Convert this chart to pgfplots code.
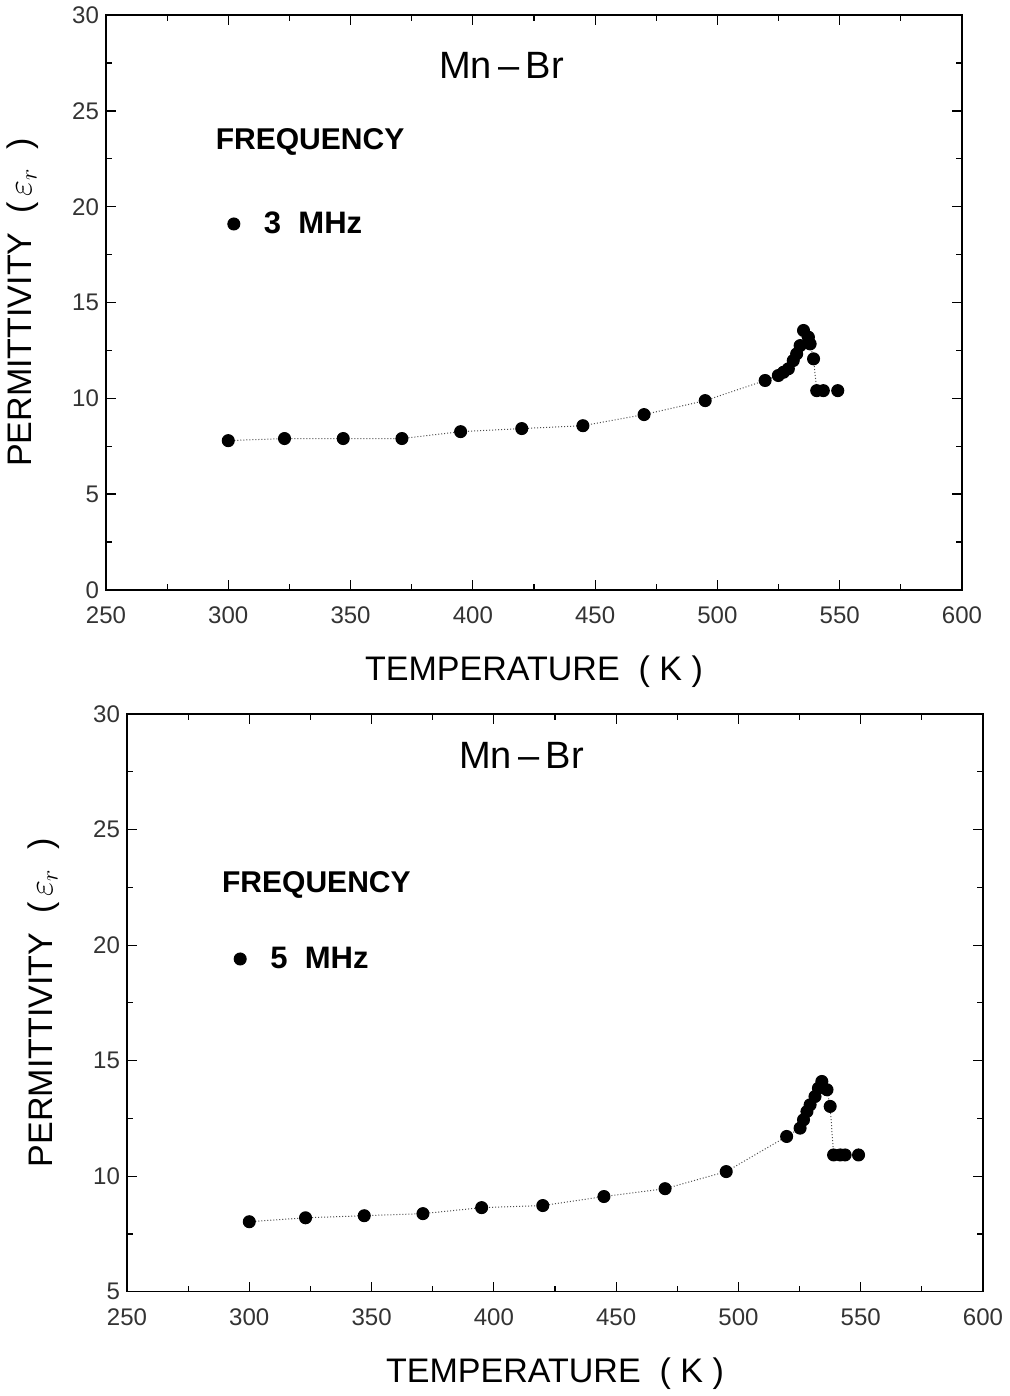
\documentclass[border=0pt]{standalone}
\usepackage{pgfplots}
\pgfplotsset{compat=1.18}
\usepackage{fontspec}
\setmainfont{Liberation Sans}

\pgfplotstableread{
T eps
300 7.79
323 7.90
347 7.90
371 7.90
395 8.26
420 8.42
445 8.57
470 9.15
495 9.88
519.5 10.93
524.9 11.19
527.0 11.36
529.0 11.54
531.0 11.97
532.4 12.32
533.8 12.75
535.2 13.54
537.2 13.19
537.9 12.84
539.3 12.06
540.6 10.40
543.3 10.40
549.2 10.40
}\threemhz

\pgfplotstableread{
T eps
300 8.03
323 8.20
347 8.29
371 8.38
395 8.64
420 8.73
445 9.12
470 9.46
495 10.20
519.7 11.72
525.2 12.08
526.6 12.44
528.0 12.80
529.3 13.09
531.3 13.45
532.7 13.81
534.1 14.10
536.2 13.74
537.5 13.02
538.9 10.92
541.6 10.92
543.6 10.92
549.1 10.92
}\fivemhz

\pgfplotsset{
  permstyle/.style={
    scale only axis,
    width=427.5pt,
    xmin=250, xmax=600,
    xtick={250,300,...,600},
    minor x tick num=1,
    minor y tick num=1,
    tick align=inside,
    xtick pos=both, ytick pos=both,
    major tick length=5pt,
    minor tick length=3pt,
    axis line style={line width=0.7pt},
    every tick/.style={line width=0.6pt, black},
    tick label style={font=\fontsize{12}{14}\selectfont, text=black!80},
    xticklabel style={yshift=-5pt},
    /pgf/number format/assume math mode=true,
    xlabel={TEMPERATURE\ \ (\ K\ )},
    ylabel={PERMITTIVITY\ \ (\,$\varepsilon_r$\ \ )},
    label style={font=\fontsize{17}{20}\selectfont},
    xlabel style={yshift=-9pt},
    ylabel style={yshift=10pt},
    legend style={draw=none, fill=none, font=\fontsize{15.5}{19}\selectfont\bfseries,
      anchor=west, cells={anchor=west}},
    legend image code/.code={\fill[black, solid] (0cm,0cm) circle (3pt); \path (0.45cm,0cm);},
  },
  datastyle/.style={densely dotted, line width=0.5pt, black!70,
    mark=*, mark size=3pt, mark options={solid, fill=black, draw=black}},
}

\begin{document}
\begin{tikzpicture}
\begin{axis}[permstyle,
  height=287pt,
  ymin=0, ymax=30,
  ytick={0,5,...,30},
  legend style={at={(axis cs:297,19.1)}},
]
\addplot[datastyle] table[x=T, y=eps] {\threemhz};
\addlegendentry{3\ \ MHz}
\node[font=\fontsize{19}{22}\selectfont] at (axis cs:411.7,27.4) {Mn\,--\,Br};
\node[anchor=west, font=\fontsize{15}{19}\selectfont\bfseries] at (axis cs:292,23.4) {FREQUENCY};
\end{axis}

\begin{axis}[permstyle,
  at={(10.5pt,-350.5pt)},
  height=288.5pt,
  ymin=5, ymax=30,
  ytick={5,10,...,30},
  legend style={at={(axis cs:291,19.4)}},
]
\addplot[datastyle] table[x=T, y=eps] {\fivemhz};
\addlegendentry{5\ \ MHz}
\node[font=\fontsize{19}{22}\selectfont] at (axis cs:411.3,28.2) {Mn\,--\,Br};
\node[anchor=west, font=\fontsize{15}{19}\selectfont\bfseries] at (axis cs:286,22.6) {FREQUENCY};
\end{axis}
\end{tikzpicture}
\end{document}
